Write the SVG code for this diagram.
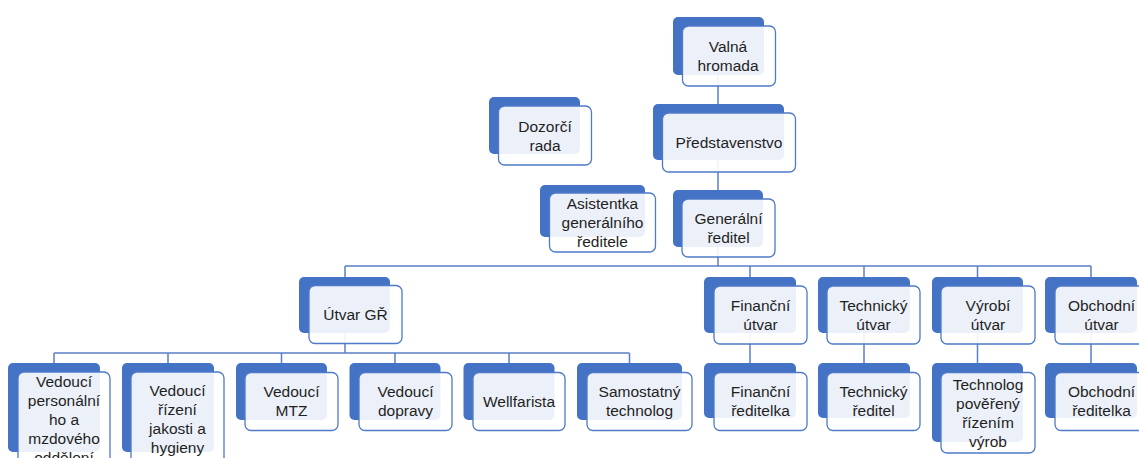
<svg xmlns="http://www.w3.org/2000/svg" width="1139" height="458" viewBox="0 0 1139 458">
<style>
.bk{fill:#4472C4;}
.fr{fill:#ffffff;fill-opacity:0.9;stroke:#4F7AC7;stroke-width:1.3;}
.tx{font-family:"Liberation Sans",Arial,sans-serif;font-size:15.5px;fill:#1f1f1f;text-anchor:middle;}
.cn{fill:none;stroke:#5B7FC7;stroke-width:1.5;}
</style>
<rect width="1139" height="458" fill="#ffffff"/>
<g id="connectors">
<path class="cn" d="M718 75V104"/>
<path class="cn" d="M718 160V190"/>
<path class="cn" d="M718 247V266M345 266H1091M345 266V277M750 266V277M864 266V277M977.5 266V277M1091 266V277"/>
<path class="cn" d="M345 333V353M54 353H629.5M54 353V363M168 353V363M281.5 353V363M395 353V363M509 353V363M629.5 353V363"/>
<path class="cn" d="M750 333V363M864 333V363M977.5 333V363M1091 333V363"/>
</g>
<g id="valna">
<rect class="bk" x="673" y="17" width="91" height="58" rx="5"/>
<rect class="fr" x="682.5" y="26" width="93" height="60" rx="6"/>
<text class="tx" x="728" y="52">Valná</text>
<text class="tx" x="728" y="71">hromada</text>
</g>
<g id="predstavenstvo">
<rect class="bk" x="653" y="104" width="131" height="56" rx="5"/>
<rect class="fr" x="662.5" y="113" width="133" height="59" rx="6"/>
<text class="tx" x="729" y="147.5">Představenstvo</text>
</g>
<g id="dozorci">
<rect class="bk" x="489" y="97" width="91" height="57" rx="5"/>
<rect class="fr" x="498.5" y="106" width="93" height="59" rx="6"/>
<text class="tx" x="545" y="131.5">Dozorčí</text>
<text class="tx" x="545" y="150.5">rada</text>
</g>
<g id="asistentka">
<rect class="bk" x="540" y="185" width="105" height="52" rx="5"/>
<rect class="fr" x="549.5" y="193" width="106" height="59" rx="6"/>
<text class="tx" x="602.5" y="208.5">Asistentka</text>
<text class="tx" x="602.5" y="227.5">generálního</text>
<text class="tx" x="602.5" y="246.5">ředitele</text>
</g>
<g id="generalni">
<rect class="bk" x="673" y="190" width="90" height="57" rx="5"/>
<rect class="fr" x="682" y="199" width="93" height="58" rx="6"/>
<text class="tx" x="728.5" y="224">Generální</text>
<text class="tx" x="728.5" y="243">ředitel</text>
</g>
<g id="utvar-gr">
<rect class="bk" x="299" y="277" width="91" height="56" rx="5"/>
<rect class="fr" x="309" y="285.5" width="93" height="58" rx="6"/>
<text class="tx" x="355.5" y="320">Útvar GŘ</text>
</g>
<g id="financni-utvar">
<rect class="bk" x="704" y="277" width="92" height="56" rx="5"/>
<rect class="fr" x="714" y="286" width="93" height="58" rx="6"/>
<text class="tx" x="760.5" y="310.5">Finanční</text>
<text class="tx" x="760.5" y="329.5">útvar</text>
</g>
<g id="technicky-utvar">
<rect class="bk" x="818" y="277" width="92" height="56" rx="5"/>
<rect class="fr" x="827" y="286" width="93" height="58" rx="6"/>
<text class="tx" x="873.5" y="310.5">Technický</text>
<text class="tx" x="873.5" y="329.5">útvar</text>
</g>
<g id="vyrobni-utvar">
<rect class="bk" x="932" y="277" width="91" height="56" rx="5"/>
<rect class="fr" x="941" y="286" width="94" height="58" rx="6"/>
<text class="tx" x="988" y="310.5">Výrobí</text>
<text class="tx" x="988" y="329.5">útvar</text>
</g>
<g id="obchodni-utvar">
<rect class="bk" x="1045" y="277" width="92" height="56" rx="5"/>
<rect class="fr" x="1055" y="286" width="93" height="58" rx="6"/>
<text class="tx" x="1101.5" y="310.5">Obchodní</text>
<text class="tx" x="1101.5" y="329.5">útvar</text>
</g>
<g id="financni-reditelka">
<rect class="bk" x="704" y="363" width="92" height="55" rx="5"/>
<rect class="fr" x="714" y="372.5" width="93" height="58" rx="6"/>
<text class="tx" x="760.5" y="397">Finanční</text>
<text class="tx" x="760.5" y="416">ředitelka</text>
</g>
<g id="technicky-reditel">
<rect class="bk" x="818" y="363" width="92" height="55" rx="5"/>
<rect class="fr" x="827" y="372.5" width="93" height="58" rx="6"/>
<text class="tx" x="873.5" y="397">Technický</text>
<text class="tx" x="873.5" y="416">ředitel</text>
</g>
<g id="technolog">
<rect class="bk" x="932" y="363" width="91" height="79" rx="5"/>
<rect class="fr" x="941" y="372.5" width="94" height="80.5" rx="6"/>
<text class="tx" x="988" y="389.5">Technolog</text>
<text class="tx" x="988" y="408.5">pověřený</text>
<text class="tx" x="988" y="427.5">řízením</text>
<text class="tx" x="988" y="446.5">výrob</text>
</g>
<g id="obchodni-reditelka">
<rect class="bk" x="1045" y="363" width="92" height="55" rx="5"/>
<rect class="fr" x="1055" y="372.5" width="93" height="58" rx="6"/>
<text class="tx" x="1101.5" y="397">Obchodní</text>
<text class="tx" x="1101.5" y="416">ředitelka</text>
</g>
<g id="vedouci-personalniho">
<rect class="bk" x="8" y="363" width="92" height="89" rx="5"/>
<rect class="fr" x="18" y="372" width="92" height="94" rx="6"/>
<text class="tx" x="64" y="386.5">Vedoucí</text>
<text class="tx" x="64" y="405.5">personální</text>
<text class="tx" x="64" y="424.5">ho a</text>
<text class="tx" x="64" y="443.5">mzdového</text>
<text class="tx" x="64" y="462.5">oddělení</text>
</g>
<g id="vedouci-rizeni">
<rect class="bk" x="122" y="363" width="92" height="89" rx="5"/>
<rect class="fr" x="131" y="372" width="93" height="94" rx="6"/>
<text class="tx" x="177.5" y="396">Vedoucí</text>
<text class="tx" x="177.5" y="415">řízení</text>
<text class="tx" x="177.5" y="434">jakosti a</text>
<text class="tx" x="177.5" y="453">hygieny</text>
</g>
<g id="vedouci-mtz">
<rect class="bk" x="236" y="363" width="91" height="57" rx="5"/>
<rect class="fr" x="245" y="372.5" width="93" height="58" rx="6"/>
<text class="tx" x="291.5" y="397">Vedoucí</text>
<text class="tx" x="291.5" y="416">MTZ</text>
</g>
<g id="vedouci-dopravy">
<rect class="bk" x="349.5" y="363" width="91" height="57" rx="5"/>
<rect class="fr" x="359" y="372.5" width="93" height="58" rx="6"/>
<text class="tx" x="405.5" y="397">Vedoucí</text>
<text class="tx" x="405.5" y="416">dopravy</text>
</g>
<g id="wellfarista">
<rect class="bk" x="463.5" y="363" width="91" height="57" rx="5"/>
<rect class="fr" x="473" y="372.5" width="92" height="58" rx="6"/>
<text class="tx" x="519" y="406.5">Wellfarista</text>
</g>
<g id="samostatny-technolog">
<rect class="bk" x="577" y="363" width="105" height="57" rx="5"/>
<rect class="fr" x="587" y="372.5" width="105" height="58" rx="6"/>
<text class="tx" x="639.5" y="397">Samostatný</text>
<text class="tx" x="639.5" y="416">technolog</text>
</g>
</svg>
